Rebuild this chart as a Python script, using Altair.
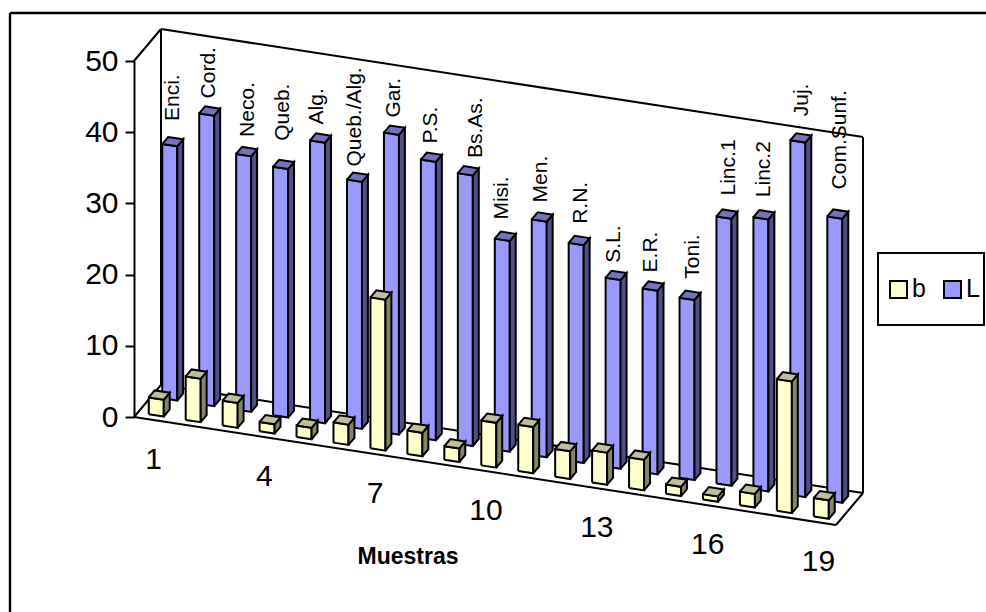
import altair as alt
import pandas as pd

# Sample data: width (b) and length (L) for each of the 19 samples
samples = list(range(1, 20))
names = ["Enci.", "Cord.", "Neco.", "Queb.", "Alg.", "Queb./Alg.", "Gar.", "P.S.", "Bs.As.",
         "Misi.", "Men.", "R.N.", "S.L.", "E.R.", "Toni.", "Linc.1", "Linc.2", "Juj.", "Com.Sunf."]
b_values = [2.35, 6.1, 3.5, 1.3, 1.6, 2.85, 21.2, 3.3, 1.9, 6.3, 6.5, 3.9, 4.5, 4.3, 1.3, 0.75, 1.9, 18.5, 2.6]
l_values = [35.7, 40.8, 35.9, 34.9, 39.4, 34.7, 42.1, 39.1, 38.0, 29.6, 33.1, 30.6, 26.5, 25.8, 25.3, 37.5, 38.2, 49.8, 39.9]
value_ticks = [0, 10, 20, 30, 40, 50]
category_ticks = [1, 4, 7, 10, 13, 16, 19]

# Oblique 3-D projection: category along the slanted floor, depth into the wall
ORIGIN = (134.0, 417.0)
RUN = (702.0, 108.0)
DEPTH = (27.0, -32.0)
PX_PER_UNIT = 7.12
BAR_WIDTH = 0.406
BAR_DEPTH = 0.22
FRONT = {"b": 0.14, "L": 0.64}

# Label placement relative to the top-left front corner of each L bar
label_dx = [11, 10, 12, 10, 7, 8, 10, 10, 18, 7, 9, 12, 8, 8, 13, 13, 11, 12, 13]
label_lift = [23, 15, 17, 26, 16, 13, 15, 16, 15, 19, 17, 19, 15, 16, 19, 21, 20, 24, 27]

FONT = "Liberation Sans"
INK = "#000000"
LINE = 2.0


def project(cat, value, depth):
    frac = cat / 19.0
    return (ORIGIN[0] + RUN[0] * frac + DEPTH[0] * depth,
            ORIGIN[1] + RUN[1] * frac + DEPTH[1] * depth - value * PX_PER_UNIT)


def polygon_rows(key, corners):
    pts = corners + [corners[0]]
    return [{"key": key, "i": k, "x": x, "y": y} for k, (x, y) in enumerate(pts)]


def bar_faces(series, values):
    faces = {"front": [], "side": [], "top": []}
    for idx, v in enumerate(values):
        c0, c1 = idx + 0.5 - BAR_WIDTH / 2, idx + 0.5 + BAR_WIDTH / 2
        d0, d1 = FRONT[series], FRONT[series] + BAR_DEPTH
        faces["front"] += polygon_rows(idx, [project(c0, 0, d0), project(c1, 0, d0), project(c1, v, d0), project(c0, v, d0)])
        faces["side"] += polygon_rows(idx, [project(c1, 0, d0), project(c1, 0, d1), project(c1, v, d1), project(c1, v, d0)])
        faces["top"] += polygon_rows(idx, [project(c0, v, d0), project(c1, v, d0), project(c1, v, d1), project(c0, v, d1)])
    return faces


x_px = alt.Scale(domain=[0, 986], nice=False, zero=False)
y_px = alt.Scale(domain=[612, 0], nice=False, zero=False)
X = alt.X("x:Q", scale=x_px, axis=None)
Y = alt.Y("y:Q", scale=y_px, axis=None)


def polygons(rows, fill, width=LINE):
    return alt.Chart(pd.DataFrame(rows)).mark_line(
        fill=fill, stroke=INK, strokeWidth=width, strokeJoin="miter"
    ).encode(x=X, y=Y, detail="key:N", order="i:Q")


def segment(a, b, width=LINE):
    rows = pd.DataFrame([{"x": a[0], "y": a[1], "x2": b[0], "y2": b[1]}])
    return alt.Chart(rows).mark_rule(color=INK, strokeWidth=width).encode(x=X, y=Y, x2="x2:Q", y2="y2:Q")


def text_layer(rows, **mark):
    return alt.Chart(pd.DataFrame(rows)).mark_text(font=FONT, color=INK, **mark).encode(x=X, y=Y, text="t:N")


# Value axis standing on the front-left corner of the floor
value_axis = alt.Chart(pd.DataFrame({"v": value_ticks})).mark_rule(opacity=0).encode(
    y=alt.Y("v:Q", scale=alt.Scale(domain=[0, 50], range=[ORIGIN[1], ORIGIN[1] - 50 * PX_PER_UNIT], nice=False),
            axis=alt.Axis(values=value_ticks, orient="left", offset=-ORIGIN[0], title=None, grid=False,
                          tickSize=9, tickWidth=LINE, tickColor=INK, domainColor=INK, domainWidth=LINE,
                          labelFont=FONT, labelFontSize=30, labelColor=INK, labelPadding=7)),
)

# Walls and floor outline
corner = lambda c, v, d: project(c, v, d)
frame_lines = [
    segment((10, 13), (986, 13), 2.4), segment((10, 13), (10, 612), 2.4),
    segment(corner(0, 0, 0), corner(19, 0, 0)), segment(corner(19, 0, 0), corner(19, 0, 1)),
    segment(corner(0, 0, 1), corner(19, 0, 1)), segment(corner(0, 0, 0), corner(0, 0, 1)),
    segment(corner(0, 0, 1), corner(0, 50, 1)), segment(corner(0, 50, 0), corner(0, 50, 1)),
    segment(corner(0, 50, 1), corner(19, 50, 1)), segment(corner(19, 0, 1), corner(19, 50, 1)),
]

l_faces = bar_faces("L", l_values)
b_faces = bar_faces("b", b_values)

# Rotated sample names above the L bars
name_rows = []
for i, name in enumerate(names):
    x, y = project(i + 0.5 - BAR_WIDTH / 2, l_values[i], FRONT["L"])
    name_rows.append({"t": name, "x": x + label_dx[i], "y": y - label_lift[i]})

cat_rows = []
for c in category_ticks:
    x, y = project(c - 0.5, 0, 0)
    cat_rows.append({"t": str(c), "x": x + 1, "y": y + 40})

# Legend box
legend_box = alt.Chart(pd.DataFrame([{"x": 878, "x2": 984, "y": 253, "y2": 325}])).mark_rect(
    fill="#ffffff", stroke=INK, strokeWidth=LINE).encode(x=X, x2="x2:Q", y=Y, y2="y2:Q")
legend_keys = pd.DataFrame([
    {"x": 890, "x2": 907, "y": 281, "y2": 298, "c": "#FFFFCC"},
    {"x": 944, "x2": 961, "y": 281, "y2": 298, "c": "#9999FF"},
])
legend_swatches = alt.Chart(legend_keys).mark_rect(stroke=INK, strokeWidth=LINE).encode(
    x=X, x2="x2:Q", y=Y, y2="y2:Q", fill=alt.Fill("c:N", scale=None))

chart = alt.layer(
    *frame_lines,
    value_axis,
    polygons(l_faces["front"], "#9999FF"),
    polygons(l_faces["side"], "#505088"),
    polygons(l_faces["top"], "#7272BF"),
    polygons(b_faces["front"], "#FFFFCC"),
    polygons(b_faces["side"], "#858569"),
    polygons(b_faces["top"], "#BFBF99"),
    text_layer(name_rows, fontSize=21, angle=270, align="left", baseline="middle"),
    text_layer(cat_rows, fontSize=30, align="center", baseline="middle"),
    text_layer([{"t": "Muestras", "x": 408, "y": 557}], fontSize=23, fontWeight="bold", align="center", baseline="middle"),
    legend_box,
    legend_swatches,
    text_layer([{"t": "b", "x": 912, "y": 297}, {"t": "L", "x": 966, "y": 297}], fontSize=25, align="left", baseline="alphabetic"),
).resolve_scale(y="independent").properties(
    width=986, height=612, padding=0,
    autosize=alt.AutoSizeParams(type="none"),
    background="#ffffff",
).configure_view(stroke=None)

chart.save("out.html", embed_options={"renderer": "svg", "actions": False})
